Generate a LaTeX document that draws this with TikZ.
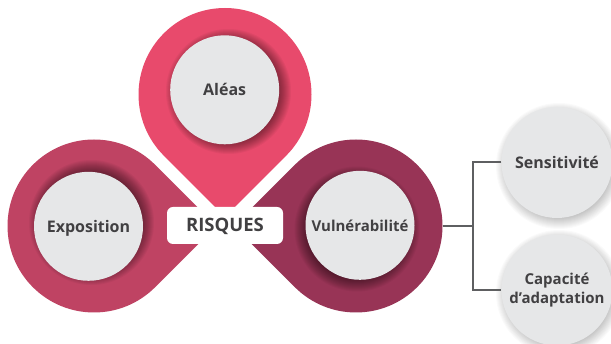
\documentclass[tikz,border=0pt]{standalone}
\usepackage{fontspec}
\setmainfont{Open Sans}
\usetikzlibrary{calc}

\definecolor{pinTop}{HTML}{E84A6C}
\definecolor{pinLeft}{HTML}{BF4363}
\definecolor{pinRight}{HTML}{983456}
\definecolor{discGray}{HTML}{E6E7E8}
\definecolor{ink}{HTML}{414042}
\definecolor{wire}{HTML}{5E5F61}

% teardrop: centre x, centre y, radius, tip direction, colour
\newcommand\droppin[5]{%
  \fill[#5] (#1,#2) ++(#4:{#3*1.41421}) -- ++(#4+135:#3)
    arc[start angle=#4+45, end angle=#4+315, radius=#3] -- cycle;}

% soft shadow built from stacked translucent discs: x, y, radius, opacity
\newcommand\softshade[4]{%
  \foreach \k in {0,...,13}{\fill[black,opacity=#4] (#1,#2) circle ({#3+8-\k});}}

\tikzset{
  discbase/.style={circle, fill=discGray, minimum size=109pt, inner sep=0pt,
    text=ink, align=center, font=\bfseries\fontsize{16}{19}\selectfont},
  disc/.style={discbase, text height=11.5pt, text depth=0pt},
  ring/.style={circle, minimum size=173pt, inner sep=0pt},
  tag/.style={rectangle, rounded corners=6pt, fill=white, minimum width=116pt,
    minimum height=37pt, inner sep=0pt, text=ink, text height=13pt, text depth=0pt,
    font=\bfseries\fontsize{18.5}{22}\selectfont},
  link/.style={draw=wire, line width=2pt}
}

\begin{document}
\begin{tikzpicture}[x=1pt, y=-1pt]
  \useasboundingbox (0,0) rectangle (611,344);
  \fill[white] (0,0) rectangle (611,344);

  % the three pins
  \droppin{225}{94.5}{86.5}{90}{pinTop}
  \droppin{94}{226}{86.5}{0}{pinLeft}
  \droppin{356}{226}{86.5}{180}{pinRight}
  \node[ring] (alearing) at (225,94.5) {};
  \node[ring] (exporing) at (94,226) {};
  \node[ring] (vulring) at (356,226) {};

  % shadows under the inner discs
  \softshade{228.5}{91.5}{54.5}{0.04}
  \softshade{91.5}{222.5}{54.5}{0.04}
  \softshade{357}{229}{54.5}{0.04}
  \softshade{559}{166}{55}{0.018}
  \softshade{559}{293}{55}{0.018}

  % inner discs
  \node[disc] (alea) at (224.7,89.8) {Aléas};
  \node[disc] (expo) at (88.5,226.3) {Exposition};
  \node[disc, font=\bfseries\fontsize{15}{18}\selectfont] (vul) at (360,225.3) {Vulnérabilité};
  \node[disc, minimum size=111pt] (sens) at (557,162.5) {Sensitivité};
  \node[discbase, minimum size=111pt, font=\bfseries\fontsize{15}{18.5}\selectfont] (capa) at (557,290) {Capacité\\d’adaptation};

  % centre label
  \node[tag] (risk) at (225,225.5) {RISQUES};

  % branching connector
  \coordinate (fork) at (473,226);
  \draw[link] (vulring.east) -- (fork);
  \draw[link] (sens.west) -| (fork) |- (capa.west);
\end{tikzpicture}
\end{document}
